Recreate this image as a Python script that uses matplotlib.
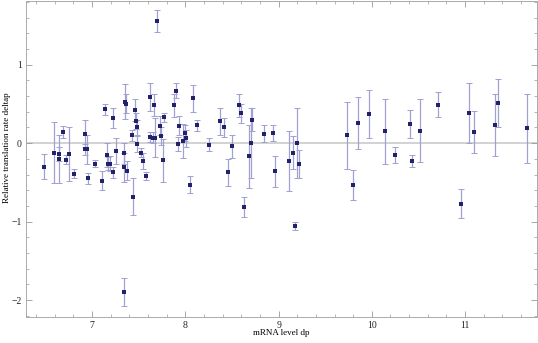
import numpy as np
import matplotlib
matplotlib.use("Agg")
import matplotlib.pyplot as plt
from matplotlib.ticker import MultipleLocator, FuncFormatter

# ── Data ──────────────────────────────────────────
mrna_dp = [6.48, 6.59, 6.65, 6.65, 6.69, 6.72, 6.75, 6.81, 6.92, 6.92,
           6.95, 6.96, 7.03, 7.11, 7.14, 7.16, 7.17, 7.19, 7.22, 7.23,
           7.26, 7.34, 7.34, 7.37, 7.35, 7.36, 7.34, 7.43, 7.44, 7.46,
           7.47, 7.48, 7.48, 7.52, 7.55, 7.58, 7.62, 7.62, 7.65, 7.66,
           7.67, 7.70, 7.73, 7.74, 7.76, 7.77, 7.88, 7.90, 7.93, 7.92,
           7.98, 8.00, 8.01, 8.05, 8.08, 8.13, 8.25, 8.37, 8.42, 8.46,
           8.50, 8.58, 8.60, 8.63, 8.68, 8.70, 8.71, 8.84, 8.94, 8.96,
           9.11, 9.15, 9.20, 9.22, 9.18, 9.73, 9.80, 9.85, 9.97, 10.14,
           10.25, 10.41, 10.43, 10.52, 10.71, 10.96, 11.04, 11.10, 11.32, 11.35,
           11.66]

deltap = [-0.30, -0.12, -0.14, -0.20, 0.14, -0.21, -0.14, -0.39, 0.12, -0.08,
          -0.08, -0.45, -0.26, -0.48, 0.43, -0.15, -0.26, -0.26, -0.37, 0.32,
          -0.10, -0.13, -0.31, -0.35, 0.53, 0.50, -1.90, 0.10, -0.68, 0.42,
          0.28, 0.20, -0.01, -0.12, -0.23, -0.42, 0.59, 0.08, 0.07, 0.48,
          0.07, 1.55, 0.22, 0.09, -0.22, 0.33, 0.48, 0.67, 0.22, -0.01,
          0.03, 0.13, 0.06, -0.53, 0.57, 0.23, -0.02, 0.28, 0.20, -0.37,
          -0.04, 0.48, 0.38, -0.81, -0.17, 0.00, 0.30, 0.12, 0.13, -0.36,
          -0.23, -0.12, 0.00, -0.27, -1.06, 0.10, -0.53, 0.26, 0.37, 0.15,
          -0.15, 0.24, -0.23, 0.16, 0.49, -0.77, 0.38, 0.14, 0.23, 0.51,
          0.19]

deltap_err = [0.16, 0.39, 0.09, 0.31, 0.08, 0.06, 0.34, 0.06, 0.17, 0.07,
              0.18, 0.07, 0.05, 0.12, 0.07, 0.15, 0.08, 0.09, 0.07, 0.13,
              0.17, 0.13, 0.19, 0.12, 0.22, 0.12, 0.18, 0.07, 0.24, 0.14,
              0.10, 0.09, 0.10, 0.06, 0.10, 0.05, 0.18, 0.06, 0.07, 0.14,
              0.25, 0.14, 0.12, 0.12, 0.27, 0.06, 0.15, 0.10, 0.12, 0.09,
              0.22, 0.10, 0.11, 0.11, 0.17, 0.07, 0.08, 0.17, 0.12, 0.17,
              0.15, 0.15, 0.12, 0.13, 0.40, 0.45, 0.15, 0.11, 0.10, 0.20,
              0.38, 0.21, 0.45, 0.18, 0.05, 0.43, 0.19, 0.33, 0.31, 0.41,
              0.10, 0.18, 0.08, 0.40, 0.16, 0.19, 0.38, 0.27, 0.39, 0.31,
              0.44]

x_ticks = [7, 8, 9, 10, 11]
y_ticks = [-2, -1, 0, 1]

# ── Plot ──────────────────────────────────────────
plt.rcParams["font.family"] = ["Liberation Serif", "DejaVu Serif"]

fig = plt.figure(figsize=(5.38, 3.43), dpi=100)
ax = fig.add_axes([0.048, 0.077, 0.950, 0.921])

ax.axhline(0, color="#cfcfcf", linewidth=1.3, zorder=0)

ax.errorbar(mrna_dp, deltap, yerr=deltap_err, fmt="none",
            ecolor="#a0a0d2", elinewidth=0.9, capsize=2.2, capthick=0.7,
            zorder=2)
ax.plot(mrna_dp, deltap, "s", color="#22226a", markersize=2.6,
        markeredgewidth=0, zorder=3)

ax.set_xlim(6.29, 11.77)
ax.set_ylim(-2.21, 1.815)

ax.set_xticks(x_ticks)
ax.set_yticks(y_ticks)
ax.xaxis.set_minor_locator(MultipleLocator(0.2))
ax.yaxis.set_minor_locator(MultipleLocator(0.2))
ax.yaxis.set_major_formatter(FuncFormatter(lambda v, p: f"{v:.0f}".replace("-", "\u2212")))

ax.tick_params(which="both", direction="in", top=True, right=True,
               color="#999999", labelsize=7, labelcolor="#222222", pad=3)
ax.tick_params(which="major", length=4, width=0.6)
ax.tick_params(which="minor", length=2, width=0.5)

for s in ax.spines.values():
    s.set_color("#aaaaaa")
    s.set_linewidth(0.7)

ax.set_xlabel("mRNA level dp", fontsize=6.5, va="center")
ax.set_ylabel("Relative translation rate deltap", fontsize=6.5, va="center")
ax.xaxis.set_label_coords(0.5, -0.052)
ax.yaxis.set_label_coords(-0.037, 0.534)

fig.savefig("out.png", dpi=100)
